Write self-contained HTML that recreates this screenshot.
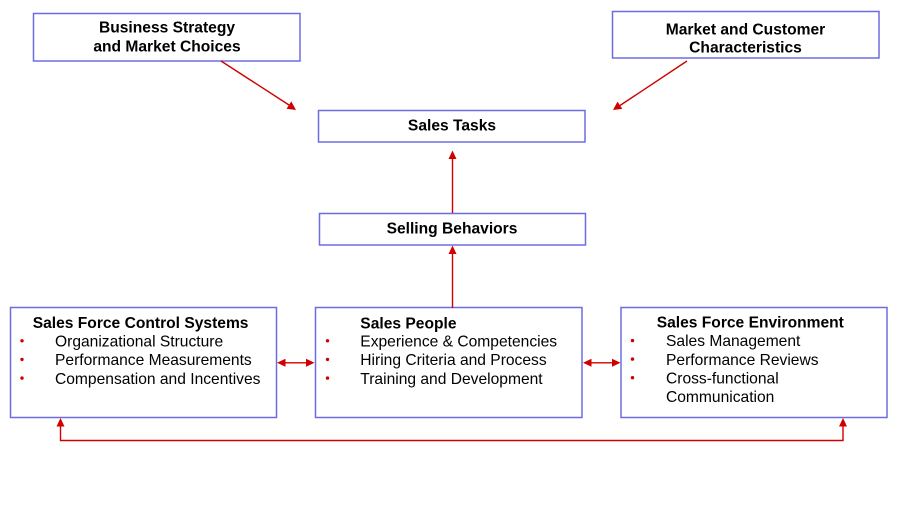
<!DOCTYPE html>
<html>
<head>
<meta charset="utf-8">
<style>
  html, body { margin:0; padding:0; background:#ffffff; }
  body { width:902px; height:514px; overflow:hidden; }
  svg { display:block; }
  text { font-family: "Liberation Sans", Arial, sans-serif; fill:#000; }
  .b { font-weight:bold; font-size:15.6px; }
  .r { font-size:15.6px; }
  .box { fill:#fff; stroke:#6d6de2; stroke-width:1.5; }
  .ln { stroke:#d00000; stroke-width:1.4; fill:none; }
  .ah { fill:#d00000; }
  .dot { fill:#d00000; }
</style>
</head>
<body>
<svg width="902" height="514" viewBox="0 0 902 514" xmlns="http://www.w3.org/2000/svg">
  <!-- Boxes -->
  <rect class="box" x="33.5" y="13.5" width="266.5" height="47.5"/>
  <rect class="box" x="612.5" y="11.5" width="266.5" height="46.5"/>
  <rect class="box" x="318.5" y="110.5" width="266.5" height="31.5"/>
  <rect class="box" x="319.5" y="213.5" width="266" height="31.5"/>
  <rect class="box" x="10.5" y="307.5" width="266" height="110"/>
  <rect class="box" x="315.5" y="307.5" width="266.5" height="110"/>
  <rect class="box" x="621" y="307.5" width="266" height="110"/>

  <!-- Top box texts -->
  <text class="b" x="167" y="32.3" text-anchor="middle">Business Strategy</text>
  <text class="b" x="167" y="51.7" text-anchor="middle">and Market Choices</text>
  <text class="b" x="745.5" y="34.3" text-anchor="middle">Market and Customer</text>
  <text class="b" x="745.5" y="52.5" text-anchor="middle">Characteristics</text>
  <text class="b" x="452" y="130.7" text-anchor="middle">Sales Tasks</text>
  <text class="b" x="452" y="233.3" text-anchor="middle">Selling Behaviors</text>

  <!-- Control Systems -->
  <text class="b" x="32.7" y="328">Sales Force Control Systems</text>
  <circle class="dot" cx="22" cy="340.8" r="1.7"/>
  <text class="r" x="55" y="346.5">Organizational Structure</text>
  <circle class="dot" cx="22" cy="359.4" r="1.7"/>
  <text class="r" x="55" y="365.1">Performance Measurements</text>
  <circle class="dot" cx="22" cy="378.1" r="1.7"/>
  <text class="r" x="55" y="383.8">Compensation and Incentives</text>

  <!-- Sales People -->
  <text class="b" x="360.3" y="328.3">Sales People</text>
  <circle class="dot" cx="327.5" cy="340.8" r="1.7"/>
  <text class="r" x="360.3" y="346.5">Experience &amp; Competencies</text>
  <circle class="dot" cx="327.5" cy="359.4" r="1.7"/>
  <text class="r" x="360.3" y="365.1">Hiring Criteria and Process</text>
  <circle class="dot" cx="327.5" cy="378.1" r="1.7"/>
  <text class="r" x="360.3" y="383.8">Training and Development</text>

  <!-- Environment -->
  <text class="b" x="656.7" y="327.5">Sales Force Environment</text>
  <circle class="dot" cx="632.5" cy="340.6" r="1.7"/>
  <text class="r" x="666" y="346.2">Sales Management</text>
  <circle class="dot" cx="632.5" cy="359.1" r="1.7"/>
  <text class="r" x="666" y="364.8">Performance Reviews</text>
  <circle class="dot" cx="632.5" cy="377.7" r="1.7"/>
  <text class="r" x="666" y="383.4">Cross-functional</text>
  <text class="r" x="666" y="402">Communication</text>

  <!-- Diagonal arrows -->
  <line class="ln" x1="221" y1="61" x2="289" y2="105"/>
  <polygon class="ah" points="296,110 286.5,108.8 291.3,101.4"/>
  <line class="ln" x1="687" y1="61" x2="620" y2="105.5"/>
  <polygon class="ah" points="613,110 617.5,101.6 622.3,108.9"/>

  <!-- Selling Behaviors -> Sales Tasks -->
  <line class="ln" x1="452.5" y1="213" x2="452.5" y2="158"/>
  <polygon class="ah" points="452.5,150.5 448.5,159 456.5,159"/>

  <!-- Sales People -> Selling Behaviors -->
  <line class="ln" x1="452.5" y1="308" x2="452.5" y2="253"/>
  <polygon class="ah" points="452.5,245.5 448.5,254 456.5,254"/>

  <!-- Double arrow left -->
  <line class="ln" x1="283" y1="362.8" x2="308" y2="362.8"/>
  <polygon class="ah" points="277,362.8 285.5,358.8 285.5,366.8"/>
  <polygon class="ah" points="314.5,362.8 306,358.8 306,366.8"/>

  <!-- Double arrow right -->
  <line class="ln" x1="589" y1="362.8" x2="614" y2="362.8"/>
  <polygon class="ah" points="583,362.8 591.5,358.8 591.5,366.8"/>
  <polygon class="ah" points="620.5,362.8 612,358.8 612,366.8"/>

  <!-- Bottom connector -->
  <polyline class="ln" points="60.5,425 60.5,440.5 843,440.5 843,425"/>
  <polygon class="ah" points="60.5,418 56.5,426.5 64.5,426.5"/>
  <polygon class="ah" points="843,418 839,426.5 847,426.5"/>
</svg>
</body>
</html>
